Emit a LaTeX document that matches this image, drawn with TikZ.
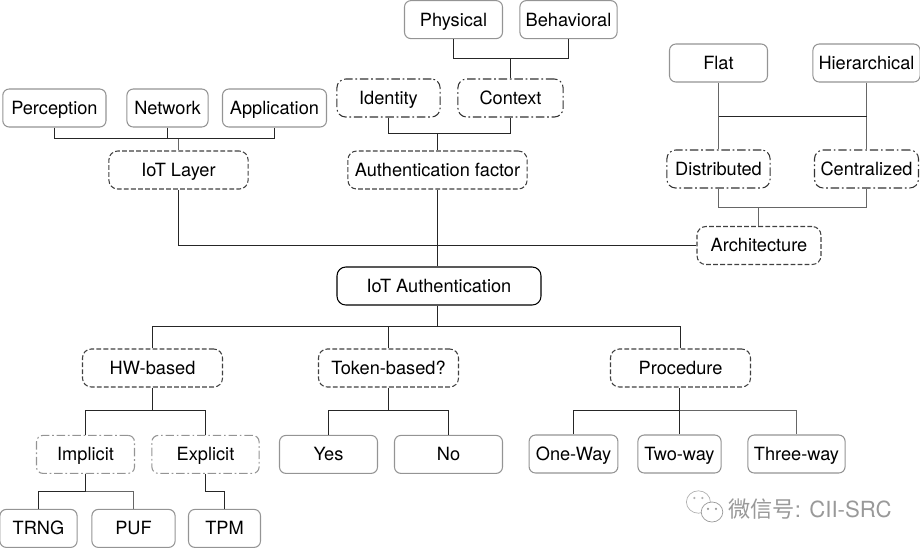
\documentclass[tikz,border=0pt]{standalone}
\usepackage{fontspec}
\setmainfont{TeX Gyre Heros}
\newfontfamily\cjkfont{Noto Sans CJK SC}
\begin{document}
\begin{tikzpicture}[line width=0.75pt, font=\fontsize{12.95}{15}\selectfont]
\tikzset{
	box/.style={rounded corners=1.6mm, align=center, minimum height=0.95cm, inner sep=0pt, text height=11.2pt, text depth=2pt},
	leaf/.style={box, draw=black!42},
	mid/.style={box, draw=black!75, dash pattern=on 3.4pt off 1.6pt, rounded corners=2.2mm},
	alt/.style={box, draw=black!80, dash pattern=on 6pt off 2pt on 1.2pt off 2pt, rounded corners=2.2mm},
	altlight/.style={box, draw=black!42, dash pattern=on 6pt off 2pt on 1.2pt off 2pt},
	wire/.style={draw=black!85},
	wiregray/.style={draw=black!60, line width=0.9pt}
}
\useasboundingbox (0,0) rectangle (23,-13.7);

% Root
\node[box, draw, rounded corners=2.2mm, minimum width=5.1cm] (root) at (10.975,-7.15) {IoT Authentication};

% Upper branches
\node[mid, minimum width=3.48cm] (layer) at (4.4625,-4.25) {IoT Layer};
\node[leaf, minimum width=2.58cm] (perception) at (1.36,-2.7) {Perception};
\node[leaf, minimum width=2.03cm] (network) at (4.1875,-2.7) {Network};
\node[leaf, minimum width=2.6cm] (application) at (6.8625,-2.7) {Application};

\node[mid, minimum width=4.48cm] (factor) at (10.9375,-4.25) {Authentication factor};
\node[alt, minimum width=2.58cm] (identity) at (9.7125,-2.45) {Identity};
\node[alt, minimum width=2.63cm] (context) at (12.7625,-2.45) {Context};
\node[leaf, minimum width=2.45cm] (physical) at (11.3375,-0.49) {Physical};
\node[leaf, minimum width=2.43cm] (behavioral) at (14.2125,-0.49) {Behavioral};

\node[mid, minimum width=3.1cm] (arch) at (18.975,-6.1375) {Architecture};
\node[alt, minimum width=2.58cm] (distributed) at (17.9625,-4.225) {Distributed};
\node[alt, minimum width=2.6cm] (centralized) at (21.6625,-4.225) {Centralized};
\node[leaf, minimum width=2.45cm] (flat) at (17.9625,-1.575) {Flat};
\node[leaf, minimum width=2.68cm] (hier) at (21.6625,-1.575) {Hierarchical};

% Lower branches
\node[mid, minimum width=3.5cm] (hw) at (3.8125,-9.2) {HW-based};
\node[mid, minimum width=3.5cm] (token) at (9.7125,-9.2) {Token-based?};
\node[mid, minimum width=3.5cm] (procedure) at (17.0125,-9.2) {Procedure};

\node[altlight, minimum width=2.45cm] (implicit) at (2.1375,-11.36) {Implicit};
\node[altlight, minimum width=2.68cm] (explicit) at (5.1375,-11.36) {Explicit};
\node[leaf, minimum width=2.45cm] (yes) at (8.2125,-11.36) {Yes};
\node[leaf, minimum width=2.7cm] (no) at (11.2125,-11.36) {No};
\node[leaf, minimum width=2.22cm] (oneway) at (14.3375,-11.35) {One-Way};
\node[leaf, minimum width=2.08cm] (twoway) at (16.9875,-11.35) {Two-way};
\node[leaf, minimum width=2.43cm] (threeway) at (19.9125,-11.35) {Three-way};

\node[leaf, minimum width=1.93cm] (trng) at (0.9625,-13.21) {TRNG};
\node[leaf, minimum width=2.08cm] (puf) at (3.3375,-13.21) {PUF};
\node[leaf, minimum width=1.8cm] (tpm) at (5.6125,-13.21) {TPM};

% Bus points
\coordinate (bLayer) at (4.4625,-3.4625);
\coordinate (bFactor) at (10.9375,-3.3375);
\coordinate (bContext) at (12.7625,-1.4625);
\coordinate (bFlat) at (17.9625,-2.9125);
\coordinate (bArch) at (18.9625,-5.1875);
\coordinate (bRoot) at (10.9375,-8.1625);
\coordinate (bHw) at (3.8125,-10.2625);
\coordinate (bToken) at (9.7125,-10.2625);
\coordinate (bProc) at (16.9875,-10.2625);
\coordinate (bImplicit) at (2.1375,-12.2875);
\coordinate (bExplicit) at (5.1375,-12.2875);

% Connectors
\draw[wire] (perception.south) |- (bLayer) -| (application.south);
\draw[wire] (network.south) -- (network.south |- bLayer);
\draw[wiregray] (bLayer) -- (layer.north);
\draw[wire] (identity.south) |- (bFactor) -| (context.south);
\draw[wire] (bFactor) -- (factor.north);
\draw[wire] (physical.south) |- (bContext) -| (behavioral.south);
\draw[wire] (bContext) -- (context.north);
\draw[wiregray] (flat.south) -- (distributed.north -| flat.south);
\draw[wiregray] (hier.south) -- (centralized.north -| hier.south);
\draw[wire] (bFlat) -- (bFlat -| hier.south);
\draw[wiregray] (distributed.south) |- (bArch) -| (centralized.south);
\draw[wiregray] (bArch) -- (arch.north -| bArch);
\draw[wire] (factor.south) -- (factor.south |- root.north);
\draw[wire] (layer.south) |- (arch.west);
\draw[wire] (bRoot |- root.south) -- (bRoot);
\draw[wire] (hw.north) |- (bRoot) -| (procedure.north);
\draw[wire] (token.north) -- (token.north |- bRoot);
\draw[wire] (hw.south) -- (bHw);
\draw[wire] (implicit.north) |- (bHw) -| (explicit.north);
\draw[wire] (token.south) -- (bToken);
\draw[wire] (yes.north) |- (bToken) -| (no.north);
\draw[wire] (procedure.south -| bProc) -- (twoway.north);
\draw[wire] (oneway.north) |- (bProc);
\draw[wiregray] (bProc) -| (threeway.north);
\draw[wire] (implicit.south) -- (bImplicit);
\draw[wire] (trng.north) |- (bImplicit);
\draw[wiregray] (bImplicit) -| (puf.north);
\draw[wire] (explicit.south) -- (bExplicit) -| (tpm.north);

% Watermark
\node[text=black!40, inner sep=0pt, font=\fontsize{15.8}{18}\selectfont] (mark) at (20.25,-12.72) {{\cjkfont 微信号}: CII-SRC};
\draw[black!30, line width=0.5pt] (17.46,-12.55) ellipse (0.3 and 0.28);
\draw[black!40, fill=white, line width=0.5pt] (17.8,-12.8) ellipse (0.27 and 0.25);
\fill[black!40] (17.7,-12.72) circle (0.03) (17.9,-12.72) circle (0.03);
\fill[black!30] (17.36,-12.45) circle (0.03) (17.56,-12.45) circle (0.03);
\end{tikzpicture}
\end{document}
